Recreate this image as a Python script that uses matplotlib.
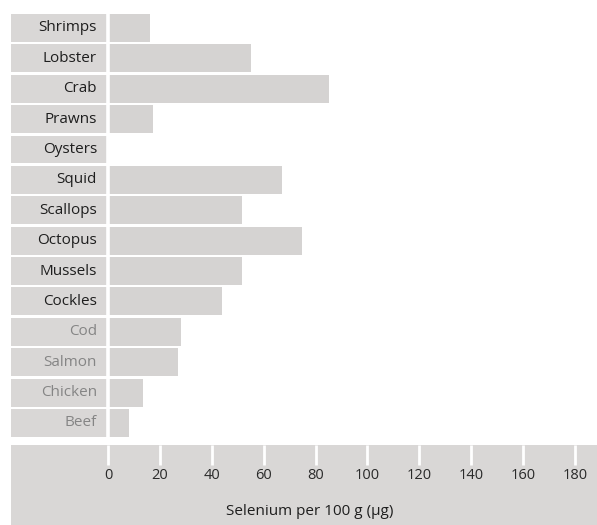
import matplotlib.pyplot as plt

# selenium content per 100 g
foods = ['Shrimps', 'Lobster', 'Crab', 'Prawns', 'Oysters', 'Squid', 'Scallops',
         'Octopus', 'Mussels', 'Cockles', 'Cod', 'Salmon', 'Chicken', 'Beef']
selenium = [16, 55, 85, 17.3, 0, 67, 51.7, 74.8, 51.7, 44, 28, 27, 13.5, 8]
# seafood labels dark, the others grey
is_seafood = [True] * 10 + [False] * 4
ticks = [0, 20, 40, 60, 80, 100, 120, 140, 160, 180]

plt.rcParams['font.family'] = ['Open Sans', 'DejaVu Sans']

bar_color = '#d5d3d2'
cell_color = '#d9d7d6'

fig = plt.figure(figsize=(5.97, 5.25), dpi=100)
# axes spans from the label column to the right edge
ax = fig.add_axes([11 / 597, 0, 586 / 597, (525 - 12.8) / 525])
px = 467 / 180  # pixels per unit
xmin = -(108 - 11) / px
xmax = (597 - 108) / px
ax.set_xlim(xmin, xmax)
ax.set_ylim(16.36, -0.5)
ax.axis('off')

rows = list(range(len(foods)))
# label cells
ax.barh(rows, [-xmin] * len(rows), left=xmin, height=0.92, color=cell_color)
# data bars
ax.barh(rows, selenium, left=0, height=0.92, color=bar_color)

for i, name in enumerate(foods):
    ax.annotate(name, (0, i), xytext=(-8, 0), textcoords='offset points',
                ha='right', va='center', fontsize=11,
                color='#1e1e1e' if is_seafood[i] else '#858585')

# bottom axis band
ax.axhspan(13.73, 16.36, color=cell_color, lw=0)
ax.vlines(0, -0.5, 13.73, color='white', lw=2.6)
ax.vlines(ticks, 13.73, 14.38, color='white', lw=2)
for t in ticks:
    ax.text(t, 14.74, str(t), ha='center', va='center', fontsize=10.5, color='#2a2a2a')
ax.text(0.51, 0.026, 'Selenium per 100 g (\u00b5g)', transform=ax.transAxes,
        ha='center', va='center', fontsize=11, color='#1e1e1e')

fig.savefig('out.png', dpi=100)
